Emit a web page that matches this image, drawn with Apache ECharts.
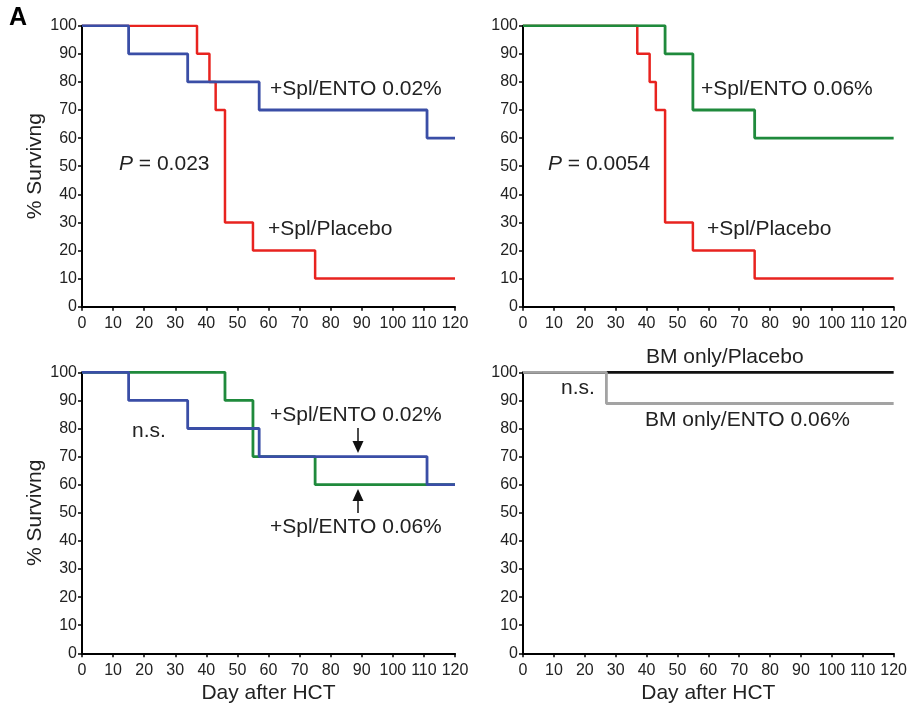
<!DOCTYPE html>
<html>
<head>
<meta charset="utf-8">
<script src="https://cdn.jsdelivr.net/npm/echarts@6/dist/echarts.min.js"></script>
<style>
html,body{margin:0;padding:0;background:#fff;}
#chart{width:910px;height:705px;}
</style>
</head>
<body>
<div id="chart"></div>
<script>
// Kaplan-Meier step data: [day, % surviving]
const xTicks = [0,10,20,30,40,50,60,70,80,90,100,110,120];
const yTicks = [0,10,20,30,40,50,60,70,80,90,100];

// Panel 1: +Spl/Placebo vs +Spl/ENTO 0.02%
const p1Placebo = [[0,100],[37,90],[41,80],[43,70],[46,30],[55,20],[75,10],[120,10]];
const p1Ento002 = [[0,100],[15,90],[34,80],[57,70],[111,60],[120,60]];
// Panel 2: +Spl/Placebo vs +Spl/ENTO 0.06%
const p2Placebo = [[0,100],[37,90],[41,80],[43,70],[46,30],[55,20],[75,10],[120,10]];
const p2Ento006 = [[0,100],[46,90],[55,70],[75,60],[120,60]];
// Panel 3: +Spl/ENTO 0.02% vs +Spl/ENTO 0.06%
const p3Ento006 = [[0,100],[46,90],[55,70],[75,60],[120,60]];
const p3Ento002 = [[0,100],[15,90],[34,80],[57,70],[111,60],[120,60]];
// Panel 4: BM only
const p4Placebo = [[0,100],[120,100]];
const p4Ento006 = [[0,100],[27,88.9],[120,88.9]];

const RED = '#e8231f', BLUE = '#3a4ea6', GREEN = '#1f8a3c', GRAY = '#a3a3a3', BLACK = '#111111';
const FONT = "'Liberation Sans', Arial, Helvetica, sans-serif";
const TXT = '#222222';

const grids = [
  {left:82, top:25.7, width:373, height:281},
  {left:523, top:25.7, width:373, height:281},
  {left:82, top:372.3, width:373, height:281},
  {left:523, top:372.3, width:373, height:281}
];

function xAx(i, named){
  return {
    type:'value', gridIndex:i, min:0, max:120, interval:10,
    name: named ? 'Day after HCT' : '', nameLocation:'middle', nameGap:29,
    nameTextStyle:{fontFamily:FONT, fontSize:21, color:TXT},
    axisLine:{show:true, onZero:false, lineStyle:{color:'#000', width:2}},
    axisTick:{show:true, length:4, lineStyle:{color:'#000', width:1.5}},
    axisLabel:{margin:9, fontFamily:FONT, fontSize:16, color:TXT, showMaxLabel:true, showMinLabel:true},
    splitLine:{show:false}
  };
}
function yAx(i, named){
  return {
    type:'value', gridIndex:i, min:0, max:100, interval:10,
    name: named ? '% Survivng' : '', nameLocation:'middle', nameGap:36,
    nameTextStyle:{fontFamily:FONT, fontSize:21, color:TXT},
    axisLine:{show:true, onZero:false, lineStyle:{color:'#000', width:2}},
    axisTick:{show:true, length:4, lineStyle:{color:'#000', width:1.5}},
    axisLabel:{margin:5, fontFamily:FONT, fontSize:16, color:TXT},
    splitLine:{show:false}
  };
}
function km(name, data, i, color, w){
  return {
    type:'line', name:name, xAxisIndex:i, yAxisIndex:i, data:data,
    step:'end', showSymbol:false, symbol:'none', animation:false,
    lineStyle:{color:color, width:w}, clip:true
  };
}
function txt(t, x, y, extra){
  return {type:'text', x:x, y:y, silent:true,
    style:Object.assign({text:t, fill:TXT, font:'21px ' + FONT, textAlign:'left', textVerticalAlign:'middle'}, extra||{})};
}
function richP(pv, x, y){
  return {type:'group', children:[
    {type:'text', x:x, y:y, style:{text:'P', fill:TXT, font:'italic 21px ' + FONT, textAlign:'left', textVerticalAlign:'middle'}},
    {type:'text', x:x+14, y:y, style:{text:' = ' + pv, fill:TXT, font:'21px ' + FONT, textAlign:'left', textVerticalAlign:'middle'}}
  ]};
}
function arrow(x, y0, y1){ // shaft from y0 to tip y1
  const dir = y1 > y0 ? 1 : -1;
  const headLen = 12, headW = 5.5;
  return {type:'group', children:[
    {type:'line', shape:{x1:x, y1:y0, x2:x, y2:y1 - dir*headLen}, style:{stroke:'#111', lineWidth:1.5}},
    {type:'polygon', shape:{points:[[x-headW, y1 - dir*headLen],[x+headW, y1 - dir*headLen],[x, y1]]}, style:{fill:'#111'}}
  ]};
}

const option = {
  backgroundColor:'#fff',
  animation:false,
  grid: grids,
  xAxis:[xAx(0,false), xAx(1,false), xAx(2,true), xAx(3,true)],
  yAxis:[yAx(0,true), yAx(1,false), yAx(2,true), yAx(3,false)],
  series:[
    km('+Spl/Placebo', p1Placebo, 0, RED, 2.5),
    km('+Spl/ENTO 0.02%', p1Ento002, 0, BLUE, 2.8),
    km('+Spl/Placebo', p2Placebo, 1, RED, 2.5),
    km('+Spl/ENTO 0.06%', p2Ento006, 1, GREEN, 2.8),
    km('+Spl/ENTO 0.06%', p3Ento006, 2, GREEN, 2.8),
    km('+Spl/ENTO 0.02%', p3Ento002, 2, BLUE, 2.8),
    km('BM only/Placebo', p4Placebo, 3, BLACK, 2.8),
    km('BM only/ENTO 0.06%', p4Ento006, 3, GRAY, 2.8)
  ],
  graphic:[
    txt('A', 9, 18, {font:'bold 25px ' + FONT, fill:'#000'}),
    txt('+Spl/ENTO 0.02%', 270, 89),
    richP('0.023', 119, 164),
    txt('+Spl/Placebo', 268, 229),
    txt('+Spl/ENTO 0.06%', 701, 89),
    richP('0.0054', 548, 164),
    txt('+Spl/Placebo', 707, 229),
    txt('n.s.', 132, 431),
    txt('+Spl/ENTO 0.02%', 270, 415),
    arrow(358, 428, 453),
    arrow(358, 513, 489),
    txt('+Spl/ENTO 0.06%', 270, 527),
    txt('BM only/Placebo', 646, 357),
    txt('n.s.', 561, 388),
    txt('BM only/ENTO 0.06%', 645, 420)
  ]
};
const chart = echarts.init(document.getElementById('chart'), null, {renderer:'canvas'});
chart.setOption(option);
</script>
</body>
</html>
